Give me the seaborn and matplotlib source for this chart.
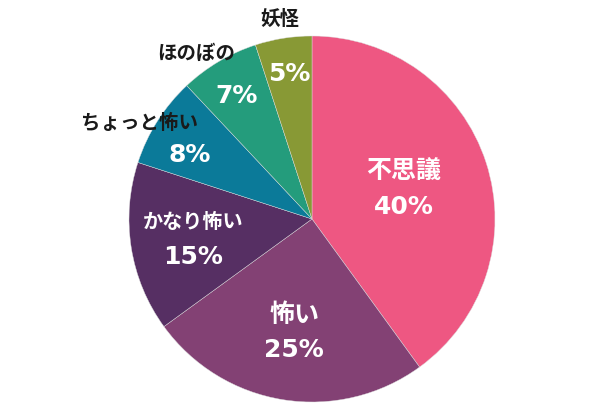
import numpy as np
import matplotlib
matplotlib.use("Agg")
import matplotlib.pyplot as plt
import seaborn as sns

sns.set_theme(style="white")
plt.rcParams['font.family'] = ['Noto Sans CJK JP', 'DejaVu Sans']

categories = ["不思議", "怖い", "かなり怖い", "ちょっと怖い", "ほのぼの", "妖怪"]
values = [40, 25, 15, 8, 7, 5]
colors = ["#EE5782", "#834174", "#562F63", "#0B7A99", "#249C7C", "#889935"]

# label placement style: inside (name + value) or outside name
inside_name = [True, True, True, False, False, False]
value_r = [0.55, 0.62, 0.66, 0.75, 0.79, 0.81]
value_off = [(-4, 0), (0, 0), (0, 0), (-6, -9), (-2, 0), (0, 0)]
name_r = [0.0, 0.0, 0.0, 1.08, 1.11, 1.11]
name_off = [(0, 0), (0, 0), (0, 0), (-6, -9), (-12, -8), (0, 0)]

fig = plt.figure(figsize=(6.0, 4.1), dpi=100)
ax = fig.add_axes([0, 0, 1, 1])

cx, cy, R = 312, 190, 183
wedges, _ = ax.pie(values, colors=colors, startangle=90, counterclock=False,
                   center=(cx, cy), radius=R, frame=True,
                   wedgeprops=dict(linewidth=0.3, edgecolor="#dddddd"))
ax.set_xlim(0, 600)
ax.set_ylim(0, 410)
ax.set_aspect("equal")
ax.axis("off")

for i, w in enumerate(wedges):
    ang = np.deg2rad((w.theta1 + w.theta2) / 2)
    pct = f"{values[i]}%"
    r = value_r[i] * R
    x = cx + r * np.cos(ang) + value_off[i][0]
    y = cy + r * np.sin(ang) + value_off[i][1]
    if inside_name[i]:
        big = values[i] >= 25
        ax.text(x, y + 17, categories[i], ha="center", va="center", color="white",
                fontsize=18 if big else 14.5, fontweight="bold")
        ax.text(x, y - 18, pct, ha="center", va="center", color="white",
                fontsize=18, fontweight="bold", family=["DejaVu Sans"])
    else:
        ax.text(x, y, pct, ha="center", va="center", color="white",
                fontsize=18, fontweight="bold", family=["DejaVu Sans"])
        r2 = name_r[i] * R
        x2 = cx + r2 * np.cos(ang) + name_off[i][0]
        y2 = cy + r2 * np.sin(ang) + name_off[i][1]
        ax.text(x2, y2, categories[i], ha="center", va="center", color="#1a1a1a",
                fontsize=14, fontweight="bold")

fig.savefig("out.png", dpi=100)
